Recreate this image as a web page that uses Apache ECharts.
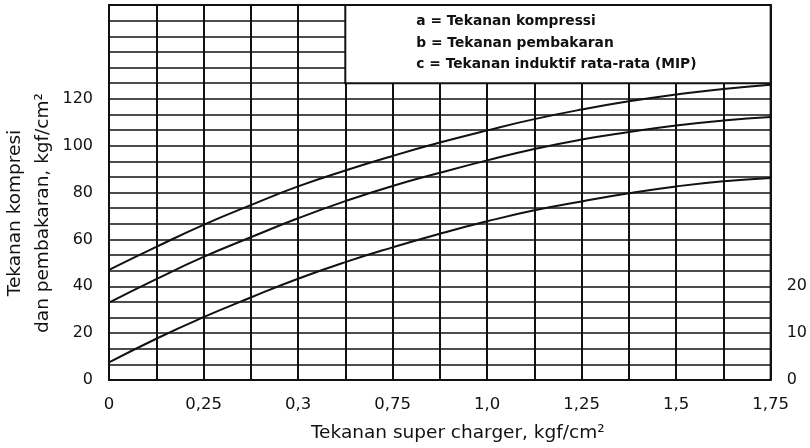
<!DOCTYPE html>
<html>
<head>
<meta charset="utf-8">
<script src="https://cdn.jsdelivr.net/npm/echarts@6/dist/echarts.min.js"></script>
<style>
  html, body { margin: 0; padding: 0; background: #fff; }
  #chart { width: 810px; height: 448px; }
</style>
</head>
<body>
<div id="chart"></div>
<script>
// Supercharger pressure (kgf/cm²) sampled at each grid column
const chargePressure = [0, 0.125, 0.25, 0.375, 0.5, 0.625, 0.75, 0.875, 1.0, 1.125, 1.25, 1.375, 1.5, 1.625, 1.75];
// a: compression pressure
const compressionA = [47, 56.8, 66.2, 74.6, 82.6, 89.4, 95.6, 101.3, 106.5, 111.3, 115.4, 118.9, 121.8, 124.2, 126];
// b: combustion pressure
const combustionB = [33, 43, 52.5, 60.9, 69, 76.3, 82.8, 88.4, 93.7, 98.6, 102.6, 105.8, 108.6, 110.7, 112.2];
// c: mean indicated pressure (MIP)
const mipC = [7.5, 17.6, 26.8, 35.2, 43.2, 50.3, 56.6, 62.4, 67.7, 72.4, 76.2, 79.7, 82.6, 84.8, 86.2];

const xTickLabels = ['0', '0,25', '0,3', '0,75', '1,0', '1,25', '1,5', '1,75'];
const leftTickLabels = ['0', '20', '40', '60', '80', '100', '120'];
const rightTickLabels = ['0', '10', '20'];
const legendLines = [
  'a = Tekanan kompressi',
  'b = Tekanan pembakaran',
  'c = Tekanan induktif rata-rata (MIP)'
];
const xTitle = 'Tekanan super charger, kgf/cm²';
const yTitle = 'Tekanan kompresi\ndan pembakaran, kgf/cm²';

const INK = '#111';
const gridRows = 24;          // horizontal rulings over the 0–160 range
const legendBoxFromRow = 19;  // the note box starts at this ruling
const legendBoxFromX = 0.625;

function pickLabel(list, value, step) {
  const i = Math.round(value / step);
  if (Math.abs(value - i * step) > 1e-6) return '';
  return i < list.length ? list[i] : '';
}

const chart = echarts.init(document.getElementById('chart'), null, { renderer: 'canvas' });

const lineStyle = { color: INK, width: 2 };
function curve(name, data, extra) {
  return Object.assign({
    name: name,
    type: 'line',
    smooth: true,
    symbol: 'none',
    yAxisIndex: 0,
    lineStyle: lineStyle,
    data: chargePressure.map((x, i) => [x, data[i]])
  }, extra || {});
}

chart.setOption({
  animation: false,
  backgroundColor: '#fff',
  grid: {
    left: 109, right: 38, top: 5, bottom: 67,
    show: true, borderColor: INK, borderWidth: 2, backgroundColor: 'transparent'
  },
  xAxis: {
    type: 'value',
    min: 0, max: 1.75, interval: 0.125,
    axisLine: { show: true, lineStyle: { color: INK, width: 2 } },
    axisTick: { show: false },
    splitLine: { show: true, lineStyle: { color: INK, width: 2 } },
    axisLabel: {
      margin: 16,
      color: INK,
      fontFamily: 'DejaVu Sans',
      fontSize: 16.5,
      formatter: v => pickLabel(xTickLabels, v, 0.25)
    },
    name: xTitle,
    nameLocation: 'middle',
    nameGap: 44,
    nameTextStyle: {
      color: INK,
      fontFamily: 'DejaVu Sans',
      fontSize: 18.5,
      padding: [0, 0, 0, 36]
    }
  },
  yAxis: [
    {
      type: 'value',
      position: 'left',
      min: 0, max: 160, interval: 20,
      axisLine: { show: true, lineStyle: { color: INK, width: 2 } },
      axisTick: { show: false },
      splitLine: { show: false },
      axisLabel: {
        margin: 16,
        color: INK,
        fontFamily: 'DejaVu Sans',
        fontSize: 16,
        formatter: v => pickLabel(leftTickLabels, v, 20)
      }
    },
    {
      type: 'value',
      position: 'right',
      min: 0, max: 80, interval: 10,
      axisLine: { show: false },
      axisTick: { show: false },
      splitLine: { show: false },
      axisLabel: {
        margin: 16,
        color: INK,
        fontFamily: 'DejaVu Sans',
        fontSize: 16,
        formatter: v => pickLabel(rightTickLabels, v, 10)
      }
    },
    {
      type: 'value',
      position: 'left',
      min: 0, max: gridRows, interval: 1,
      axisLine: { show: false },
      axisTick: { show: false },
      axisLabel: { show: false },
      splitLine: { show: true, lineStyle: { color: INK, width: 1.7 } }
    }
  ],
  graphic: [
    {
      type: 'text',
      x: 29, y: 213,
      rotation: Math.PI / 2,
      style: {
        text: yTitle,
        fill: INK,
        font: '18.5px "DejaVu Sans"',
        align: 'center',
        verticalAlign: 'middle',
        lineHeight: 28
      }
    }
  ],
  series: [
    curve('a', compressionA, {
      markArea: {
        silent: true,
        itemStyle: { color: '#fff', borderColor: INK, borderWidth: 2 },
        label: {
          show: true,
          position: [72, 7],
          color: INK,
          fontFamily: 'DejaVu Sans',
          fontWeight: 'bold',
          fontSize: 13.8,
          lineHeight: 21.5,
          formatter: legendLines.join('\n')
        },
        data: [[
          { xAxis: legendBoxFromX, yAxis: 160 * legendBoxFromRow / gridRows },
          { xAxis: 1.75, yAxis: 160 }
        ]]
      }
    }),
    curve('b', combustionB),
    curve('c', mipC)
  ]
});
</script>
</body>
</html>
